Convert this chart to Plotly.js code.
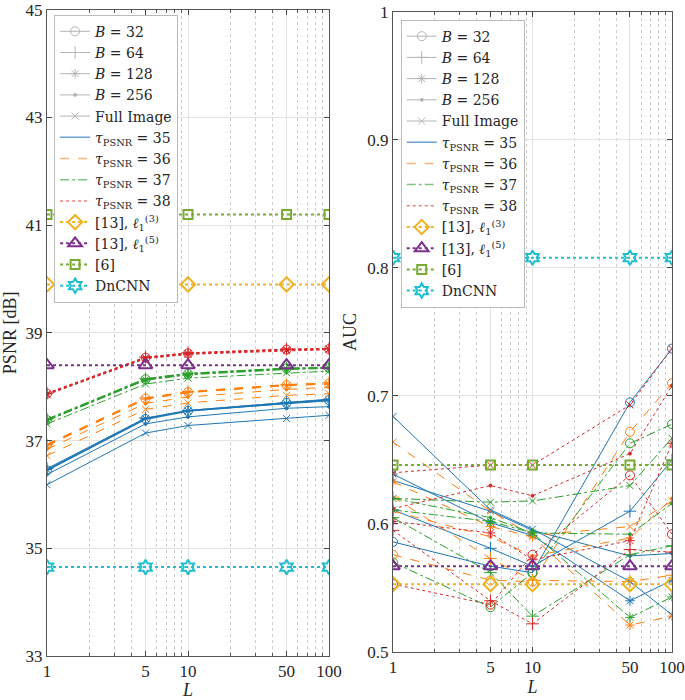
<!DOCTYPE html>
<html>
<head>
<meta charset="utf-8">
<script src="https://cdn.plot.ly/plotly-3.0.1.min.js"></script>
<style>
  body { margin: 0; background: #fff; }
  #chart { width: 685px; height: 700px; }
</style>
</head>
<body>
<div id="chart"></div>
<script>
// number of looks
const L = [1, 5, 10, 50, 100];

// PSNR [dB], one row per block size: B=32, B=64, B=128, B=256, Full Image
const psnrTau35 = [
    [36.45, 37.40, 37.55, 37.70, 37.75],
    [36.48, 37.42, 37.56, 37.71, 37.77],
    [36.46, 37.41, 37.55, 37.69, 37.74],
    [36.37, 37.31, 37.44, 37.60, 37.63],
    [36.18, 37.14, 37.28, 37.41, 37.47]
];
const psnrTau36 = [
    [36.92, 37.78, 37.90, 38.03, 38.06],
    [36.93, 37.79, 37.91, 38.04, 38.07],
    [36.90, 37.77, 37.89, 38.02, 38.05],
    [36.84, 37.69, 37.81, 37.95, 37.99],
    [36.72, 37.58, 37.70, 37.84, 37.87]
];
const psnrTau37 = [
    [37.38, 38.14, 38.24, 38.34, 38.35],
    [37.40, 38.15, 38.25, 38.34, 38.36],
    [37.39, 38.13, 38.23, 38.33, 38.35],
    [37.37, 38.12, 38.22, 38.32, 38.34],
    [37.31, 38.05, 38.16, 38.26, 38.29]
];
const psnrTau38 = [
    [37.87, 38.54, 38.62, 38.69, 38.70],
    [37.88, 38.55, 38.63, 38.70, 38.71],
    [37.87, 38.54, 38.62, 38.69, 38.70],
    [37.86, 38.53, 38.61, 38.68, 38.69],
    [37.85, 38.52, 38.60, 38.67, 38.69]
];

// AUC, same row order
const aucTau35 = [
    [0.586, 0.567, 0.562, 0.695, 0.737],
    [0.611, 0.581, 0.567, 0.610, 0.650],
    [0.639, 0.601, 0.591, 0.540, 0.556],
    [0.634, 0.610, 0.595, 0.575, 0.577],
    [0.684, 0.611, 0.596, 0.555, 0.529]
];
const aucTau36 = [
    [0.576, 0.556, 0.555, 0.672, 0.710],
    [0.621, 0.573, 0.556, 0.555, 0.560],
    [0.633, 0.598, 0.590, 0.521, 0.528],
    [0.610, 0.590, 0.575, 0.589, 0.620],
    [0.664, 0.610, 0.591, 0.598, 0.618]
];
const aucTau37 = [
    [0.570, 0.535, 0.562, 0.663, 0.678],
    [0.605, 0.562, 0.528, 0.576, 0.583],
    [0.611, 0.602, 0.593, 0.527, 0.543],
    [0.620, 0.605, 0.593, 0.592, 0.616],
    [0.620, 0.617, 0.618, 0.630, 0.667]
];
const aucTau38 = [
    [0.553, 0.537, 0.576, 0.638, 0.592],
    [0.595, 0.540, 0.522, 0.580, 0.578],
    [0.602, 0.593, 0.572, 0.587, 0.663],
    [0.612, 0.630, 0.622, 0.655, 0.708],
    [0.640, 0.646, 0.646, 0.693, 0.737]
];

// comparison methods (constant in L)
const baseNames = ['[13], <i>ℓ</i><sub>1</sub><sup>(3)</sup>', '[13], <i>ℓ</i><sub>1</sub><sup>(5)</sup>', '[6]', 'DnCNN'];
const basePsnr = [39.9, 38.4, 41.2, 34.65];
const baseAuc = [0.553, 0.567, 0.646, 0.808];

const blockNames = ['<i>B</i> = 32', '<i>B</i> = 64', '<i>B</i> = 128', '<i>B</i> = 256', 'Full Image'];
const tauNames = ['<i>τ</i><sub>PSNR</sub> = 35', '<i>τ</i><sub>PSNR</sub> = 36', '<i>τ</i><sub>PSNR</sub> = 37', '<i>τ</i><sub>PSNR</sub> = 38'];

const psnrTicks = [33, 35, 37, 39, 41, 43, 45];
const aucTicks = [0.5, 0.6, 0.7, 0.8, 0.9, 1];

const tauColors = ['#1f77b4', '#ff7f0e', '#2ca02c', '#d62728'];
const tauLegendColors = ['#6fa3cf', '#ffb27a', '#7fc47f', '#e88080'];
const tauDash = ['solid', 'dash', 'dashdot', 'dot'];
const blockSymbols = ['circle-open', 'cross-thin-open', 'asterisk-open', 'circle', 'x-thin-open'];
const blockSizes = [9, 9, 8, 3, 7];
const baseColors = ['#f0b323', '#7e2f8e', '#77ac30', '#1ebfd0'];
const baseSymbols = ['diamond-open', 'triangle-up-open', 'square-open', 'hexagram-open'];
const baseSizes = [11, 12, 9, 11];

const psnrSets = [psnrTau35, psnrTau36, psnrTau37, psnrTau38];
const aucSets = [aucTau35, aucTau36, aucTau37, aucTau38];

let data = [];

function addCurves(sets, xa, ya, thickFirst) {
    sets.forEach((rows, t) => {
        rows.forEach((vals, b) => {
            data.push({
                x: L, y: vals, xaxis: xa, yaxis: ya,
                type: 'scatter', mode: 'lines+markers', showlegend: false,
                line: { color: tauColors[t], dash: tauDash[t], width: (thickFirst && b === 0) ? 1.8 : 1 },
                marker: { symbol: blockSymbols[b], size: blockSizes[b], color: tauColors[t], line: { color: tauColors[t], width: 1 } }
            });
        });
    });
}
addCurves(psnrSets, 'x', 'y', true);
addCurves(aucSets, 'x2', 'y2', false);

// legend entries + baselines for both panels
['legend', 'legend2'].forEach((lg, k) => {
    const xa = k === 0 ? 'x' : 'x2';
    const ya = k === 0 ? 'y' : 'y2';
    let rank = 1;
    blockNames.forEach((name, b) => {
        data.push({
            x: [null], y: [null], xaxis: xa, yaxis: ya, name: name, legend: lg, legendrank: rank++,
            type: 'scatter', mode: 'lines+markers',
            line: { color: '#b5b5b5', width: 1 },
            marker: { symbol: blockSymbols[b], size: blockSizes[b], color: '#b5b5b5', line: { color: '#b5b5b5', width: 1 } }
        });
    });
    tauNames.forEach((name, t) => {
        data.push({
            x: [null], y: [null], xaxis: xa, yaxis: ya, name: name, legend: lg, legendrank: rank++,
            type: 'scatter', mode: 'lines',
            line: { color: tauLegendColors[t], dash: tauDash[t], width: 1.5 }
        });
    });
    const vals = k === 0 ? basePsnr : baseAuc;
    baseNames.forEach((name, i) => {
        data.push({
            x: L, y: L.map(() => vals[i]), xaxis: xa, yaxis: ya, name: name, legend: lg, legendrank: rank++,
            type: 'scatter', mode: 'lines+markers',
            line: { color: baseColors[i], dash: 'dot', width: 2 },
            marker: { symbol: baseSymbols[i], size: baseSizes[i], color: baseColors[i], line: { color: baseColors[i], width: 2 } }
        });
    });
});

const fontFam = 'Liberation Serif, DejaVu Serif, serif';

function xAxis(domain, anchor) {
    return {
        type: 'log', range: [0, 2], domain: domain, anchor: anchor,
        tickvals: L, ticktext: L.map(String),
        ticks: 'inside', ticklen: 5, tickcolor: '#444',
        showline: true, mirror: 'ticks', linecolor: '#555', linewidth: 1,
        showgrid: true, gridcolor: '#e3e3e3', zeroline: false,
        minor: {
            tickvals: [2, 3, 4, 6, 7, 8, 9, 20, 30, 40, 60, 70, 80, 90],
            showgrid: true, griddash: 'dot', gridcolor: '#cfcfcf', ticks: 'inside', ticklen: 3, tickcolor: '#555'
        },
        tickfont: { size: 17, color: '#262626' },
        title: { text: '<i>L</i>', font: { size: 18, color: '#262626' }, standoff: 4 }
    };
}

function yAxis(range, ticks, domain, anchor, title) {
    return {
        range: range, tickvals: ticks, domain: domain, anchor: anchor,
        ticks: 'inside', ticklen: 5, tickcolor: '#444',
        showline: true, mirror: 'ticks', linecolor: '#555', zeroline: false,
        showgrid: true, gridcolor: '#e3e3e3',
        tickfont: { size: 17, color: '#262626' },
        title: { text: title, font: { size: 18, color: '#262626' }, standoff: 6 }
    };
}

function legendBox(x, y) {
    return {
        x: x, y: y, xanchor: 'left', yanchor: 'top',
        bgcolor: '#fff', bordercolor: '#bbb', borderwidth: 1,
        font: { family: 'DejaVu Serif, serif', size: 14, color: '#262626' },
        tracegroupgap: 0, itemwidth: 30
    };
}

const layout = {
    width: 685, height: 700,
    margin: { l: 0, r: 0, t: 0, b: 0 },
    paper_bgcolor: '#fff', plot_bgcolor: '#fff',
    font: { family: fontFam, color: '#262626' },
    xaxis: xAxis([0.0686, 0.4803], 'y'),
    xaxis2: xAxis([0.5737, 0.981], 'y2'),
    yaxis: yAxis([33, 45], psnrTicks, [0.0629, 0.986], 'x', 'PSNR [dB]'),
    yaxis2: yAxis([0.5, 1], aucTicks, [0.0686, 0.9829], 'x2', 'AUC'),
    legend: legendBox(0.079, 0.979),
    legend2: legendBox(0.585, 0.972)
};

Plotly.newPlot('chart', data, layout, { displayModeBar: false });
</script>
</body>
</html>
